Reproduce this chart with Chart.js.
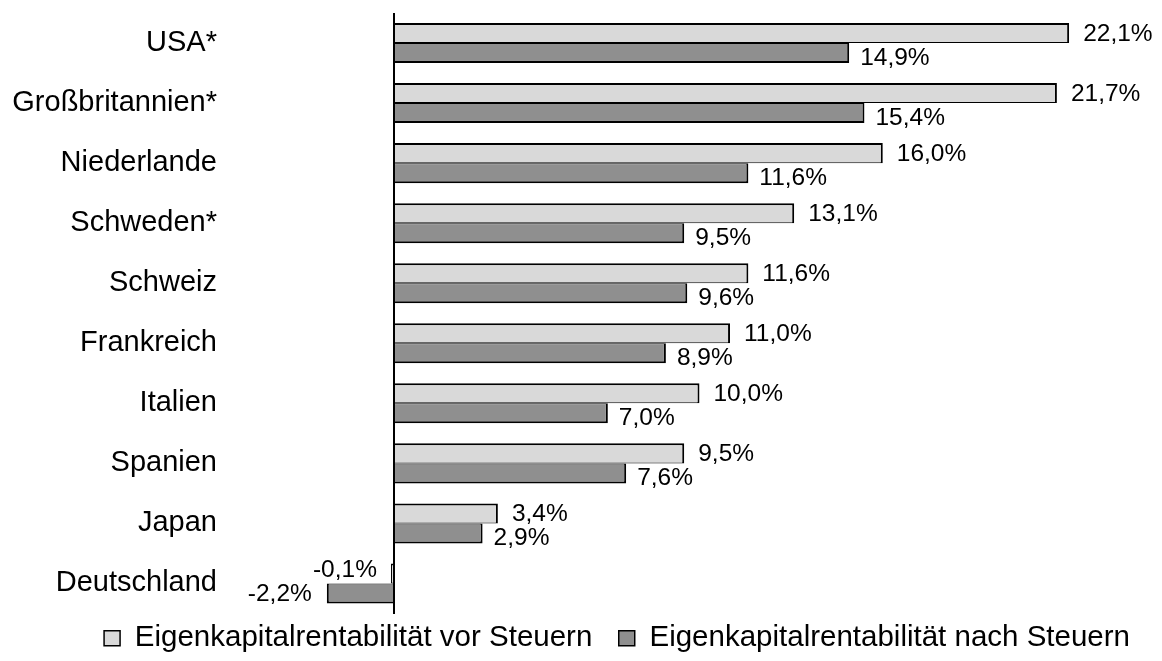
<!DOCTYPE html>
<html>
<head>
<meta charset="utf-8">
<script src="https://cdn.jsdelivr.net/npm/chart.js@4/dist/chart.umd.min.js"></script>
<style>
    html, body { margin: 0; padding: 0; background: #fff; }
    #wrap { width: 1162px; height: 661px; }
</style>
</head>
<body>
<div id="wrap"><canvas id="roeChart"></canvas></div>
<script>
const categories = ['USA*', 'Großbritannien*', 'Niederlande', 'Schweden*', 'Schweiz', 'Frankreich', 'Italien', 'Spanien', 'Japan', 'Deutschland'];
const vorSteuern = [22.1, 21.7, 16.0, 13.1, 11.6, 11.0, 10.0, 9.5, 3.4, -0.1];
const nachSteuern = [14.9, 15.4, 11.6, 9.5, 9.6, 8.9, 7.0, 7.6, 2.9, -2.2];
const seriesNames = ['Eigenkapitalrentabilität vor Steuern', 'Eigenkapitalrentabilität nach Steuern'];

const colors = {
    light: '#d9d9d9',
    dark: '#8f8f8f',
    border: '#000000',
    text: '#000000'
};
const fontFamily = "'Liberation Sans', Arial, Helvetica, sans-serif";

function fmt(v) {
    return v.toFixed(1).replace('.', ',') + '%';
}

// value labels next to the bar ends
const valueLabels = {
    id: 'valueLabels',
    afterDatasetsDraw(chart) {
        const ctx = chart.ctx;
        ctx.save();
        ctx.font = '24.5px ' + fontFamily;
        ctx.fillStyle = colors.text;
        ctx.textBaseline = 'middle';
        chart.data.datasets.forEach((ds, di) => {
            const meta = chart.getDatasetMeta(di);
            meta.data.forEach((bar, i) => {
                const v = ds.data[i];
                if (v >= 0) {
                    ctx.textAlign = 'left';
                    if (di === 0) ctx.fillText(fmt(v), bar.x + 14, bar.y + 1);
                    else ctx.fillText(fmt(v), bar.x + 11, bar.y + 5);
                } else {
                    ctx.textAlign = 'right';
                    if (di === 0) ctx.fillText(fmt(v), bar.x - 14, bar.y - 3);
                    else ctx.fillText(fmt(v), bar.x - 15, bar.y + 1);
                }
            });
        });
        ctx.restore();
    }
};

new Chart(document.getElementById('roeChart').getContext('2d'), {
    type: 'bar',
    data: {
        labels: categories,
        datasets: [
            {
                label: seriesNames[0],
                data: vorSteuern,
                backgroundColor: colors.light,
                borderColor: colors.border,
                borderWidth: { top: 2, right: 2, bottom: 1, left: 2 },
                borderSkipped: 'start',
                categoryPercentage: 0.667,
                barPercentage: 1.0
            },
            {
                label: seriesNames[1],
                data: nachSteuern,
                backgroundColor: colors.dark,
                borderColor: colors.border,
                borderWidth: { top: 1, right: 2, bottom: 2, left: 2 },
                borderSkipped: 'start',
                categoryPercentage: 0.667,
                barPercentage: 1.0
            }
        ]
    },
    options: {
        indexAxis: 'y',
        responsive: true,
        maintainAspectRatio: false,
        animation: false,
        layout: { padding: { top: 0, left: 10, right: 22, bottom: -2 } },
        plugins: {
            tooltip: { enabled: false },
            legend: {
                position: 'bottom',
                align: 'end',
                labels: {
                    color: colors.text,
                    font: { family: fontFamily, size: 29.5 },
                    boxWidth: 16,
                    boxHeight: 15,
                    padding: 10,
                    generateLabels(chart) {
                        const items = Chart.defaults.plugins.legend.labels.generateLabels(chart);
                        items.forEach((it, i) => {
                            it.lineWidth = 1.5;
                            if (i === 0) it.text = it.text + '  ';
                        });
                        return items;
                    }
                }
            }
        },
        scales: {
            x: {
                min: -5.5,
                max: 24.42,
                ticks: { display: false, stepSize: 1 },
                border: { display: false },
                grid: {
                    drawTicks: false,
                    lineWidth: 2,
                    color: c => (c.tick && c.tick.value === 0 ? '#000000' : 'rgba(0,0,0,0)')
                }
            },
            y: {
                afterFit(scale) {
                    scale.width = 216;
                    scale.paddingTop = 13;
                    scale.paddingBottom = 0;
                },
                ticks: {
                    color: colors.text,
                    font: { family: fontFamily, size: 29 },
                    padding: 9
                },
                border: { display: false },
                grid: { display: false, drawTicks: false }
            }
        }
    },
    plugins: [valueLabels]
});
</script>
</body>
</html>
